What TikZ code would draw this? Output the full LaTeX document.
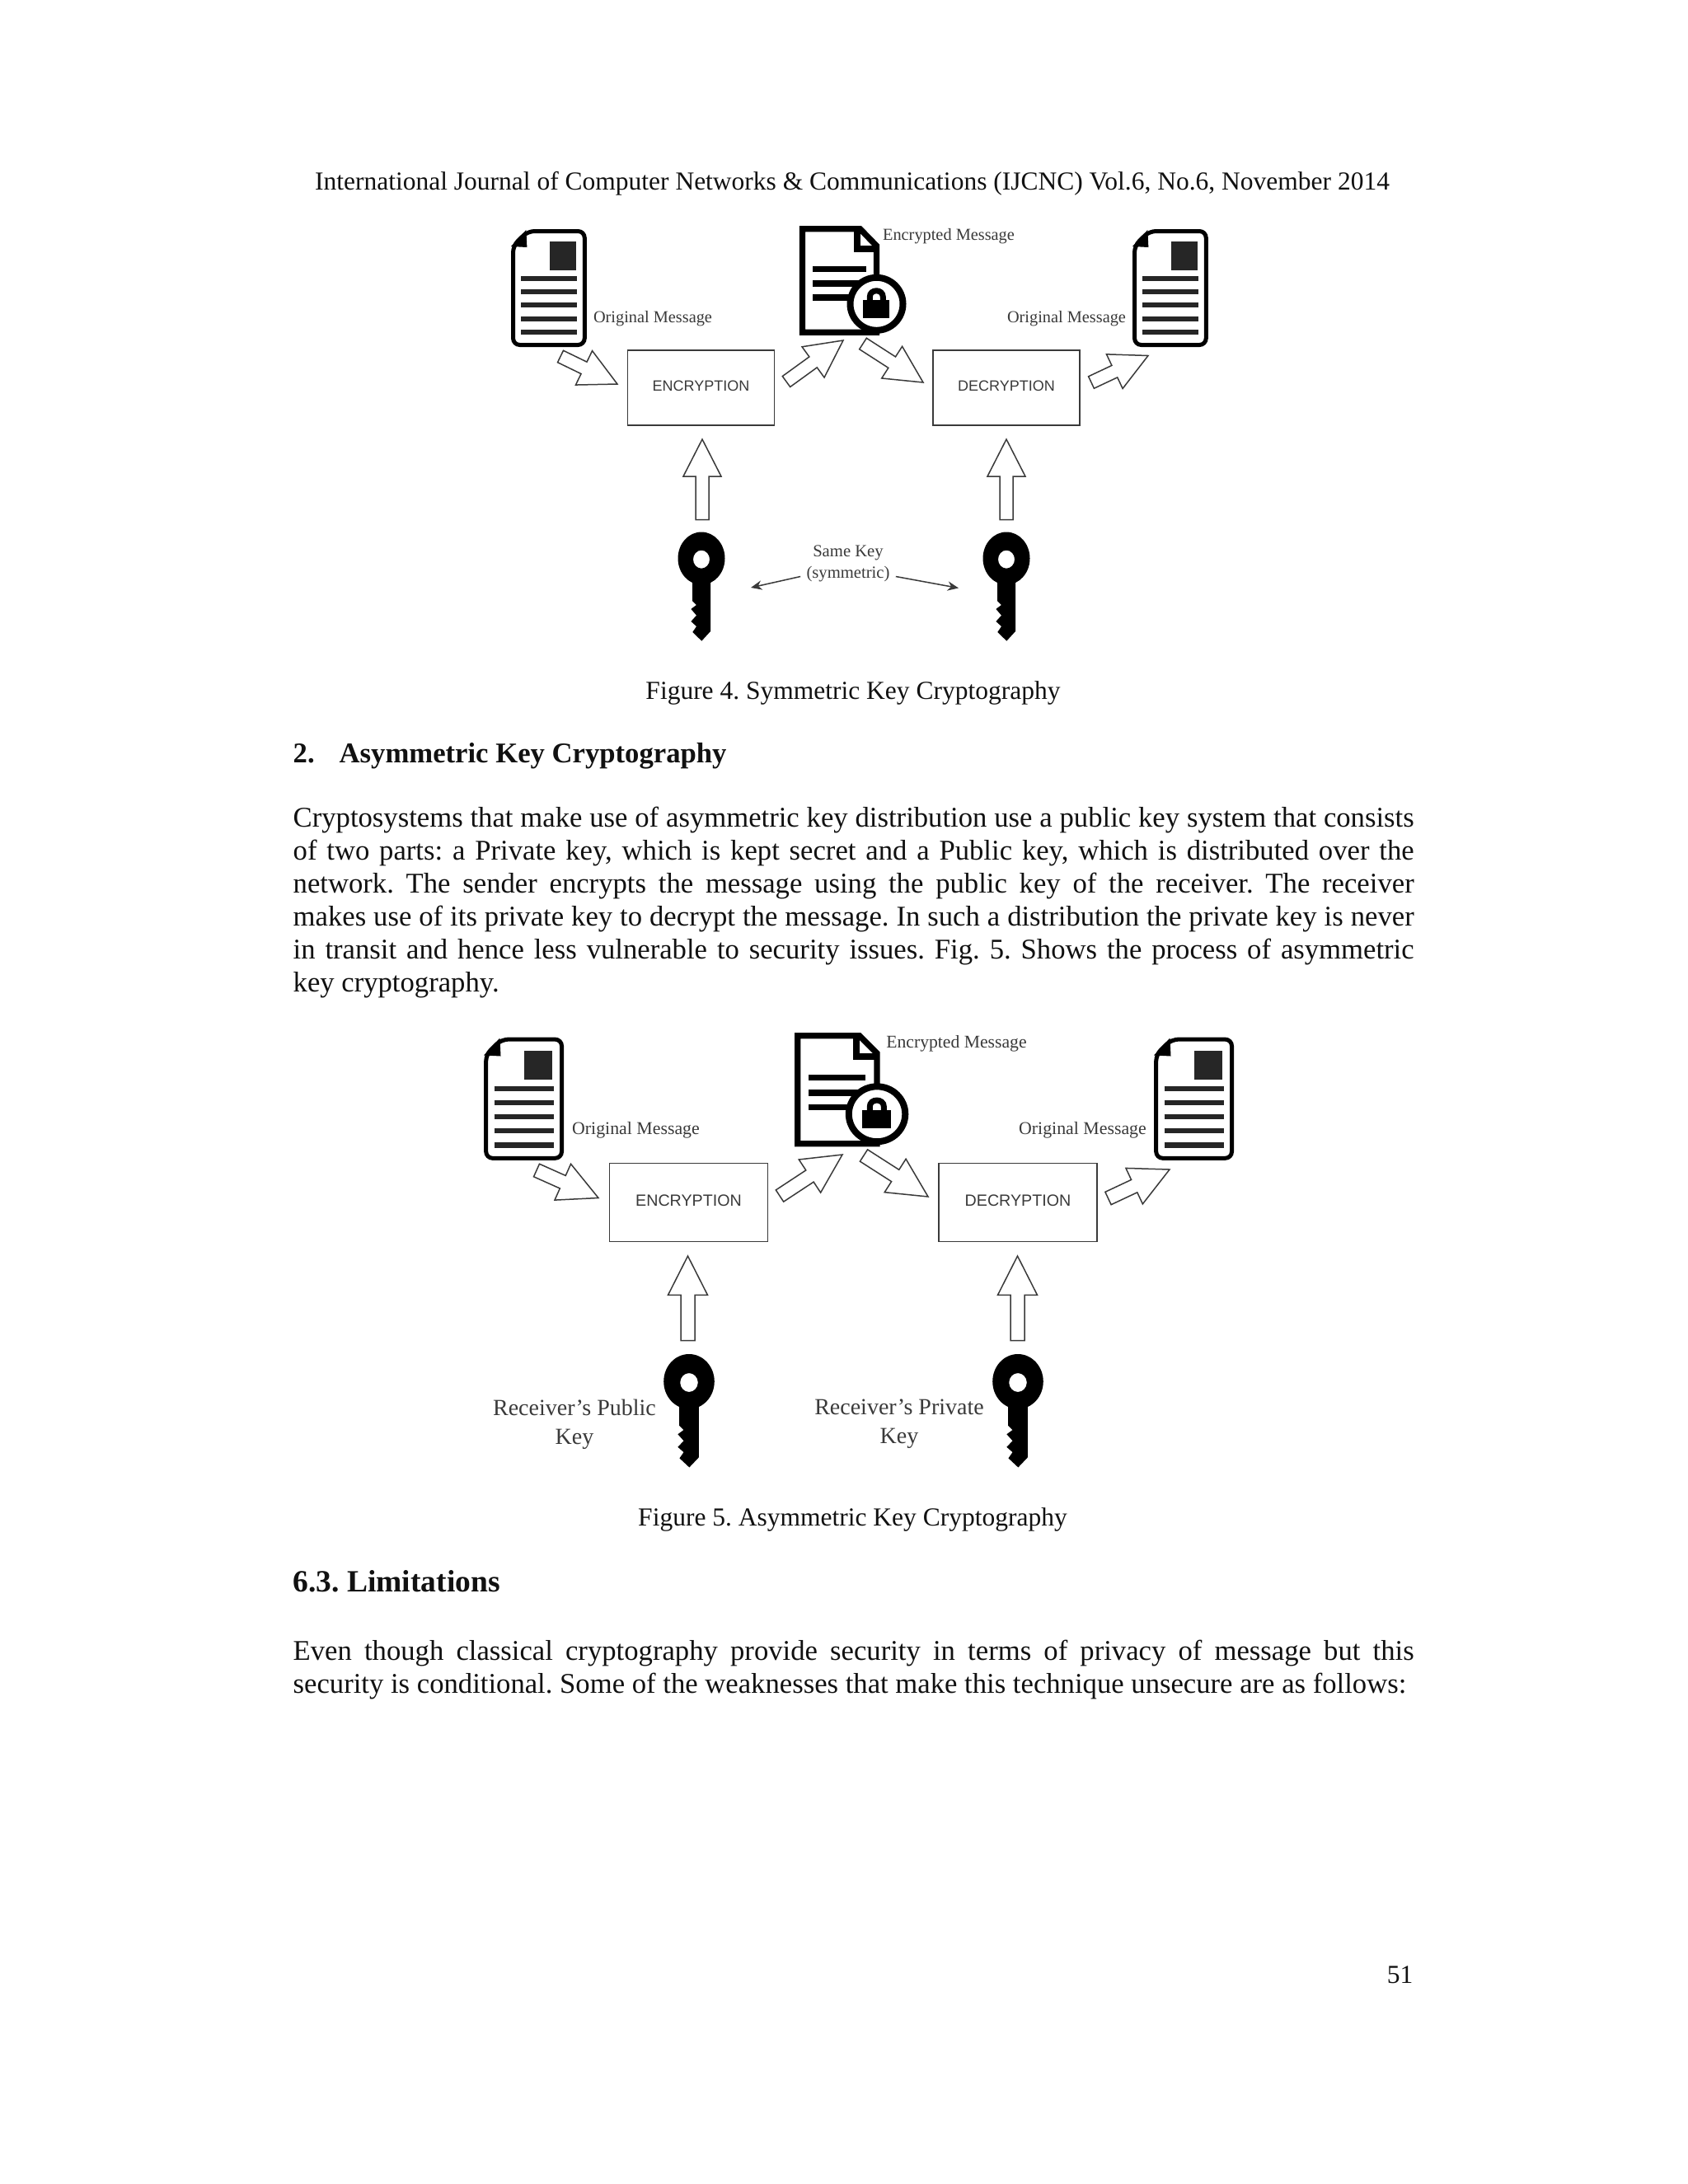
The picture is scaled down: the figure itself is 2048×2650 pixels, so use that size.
\documentclass[tikz,border=0pt]{standalone}
\usepackage{fontspec}
\setmainfont{Liberation Serif}
\newfontfamily\boxfont{Liberation Sans}
\usetikzlibrary{calc,arrows.meta}
\definecolor{inkgrey}{HTML}{3A3A3A}
\definecolor{pageblack}{HTML}{111111}
\frenchspacing
\tikzset{
  bodytext/.style={inner sep=0pt, text=pageblack, font=\fontsize{9.45}{12}\selectfont},
  headtext/.style={bodytext, anchor=base west, font=\fontsize{10.4}{12}\selectfont\bfseries},
  parablock/.style={bodytext, anchor=north west, text width=408pt, align=justify, font=\fontsize{10.4}{12}\selectfont},
  msglabel/.style={inner sep=0pt, text=inkgrey, font=\fontsize{#1}{8}\selectfont},
  keylabel/.style={inner sep=0pt, text=inkgrey, align=center, font=\fontsize{8.4}{10.4}\selectfont},
  topbox/.style={draw=inkgrey, line width=0.45pt, minimum width=53.4pt, minimum height=27.4pt, inner sep=0pt, text=inkgrey, text height=4pt, text depth=1.6pt, font=\boxfont\fontsize{5.4}{7}\selectfont},
  lowbox/.style={draw=inkgrey, line width=0.45pt, minimum width=57.6pt, minimum height=28.6pt, inner sep=0pt, text=inkgrey, text height=4.3pt, text depth=1.8pt, font=\boxfont\fontsize{5.9}{7}\selectfont},
  hollowline/.style={draw=inkgrey, line width=0.45pt, fill=white, line join=miter},
  thinarrow/.style={draw=inkgrey, line width=0.45pt, -{Stealth[length=4pt,width=3.4pt]}},
  pics/origdoc/.style={code={
    \draw[black, line width=1.5pt, fill=white, rounded corners=2.4pt] (2.5,20) -- (20,2.5) -- (87.5,2.5) -- (87.5,140.5) -- (2.5,140.5) -- cycle;
    \fill[black] (18,1) -- (0,21) -- (19,22) -- cycle;
    \fill[black!85] (45.7,15.3) rectangle (77.3,49.7);
    \draw[black!85, line width=1.9pt] (12,59.7) -- (78.7,59.7) (12,76) -- (78.7,76) (12,92.3) -- (78.7,92.3) (12,108.7) -- (78.7,108.7) (12,125.3) -- (78.7,125.3);
  }},
  pics/lockdoc/.style={code={
    \draw[black, line width=2.2pt, fill=white, line join=miter] (3.5,3.5) -- (73.5,3.5) -- (93.5,24) -- (93.5,129) -- (3.5,129) -- cycle;
    \draw[black, line width=2.2pt] (70,3.5) -- (70,27.7) -- (93.5,27.7);
    \draw[black, line width=2.2pt] (16,52.4) -- (80.7,52.4) (16,69.7) -- (80.7,69.7) (16,86.7) -- (80.7,86.7);
    \draw[black, line width=2.4pt, fill=white] (93.5,94.5) ellipse (32 and 32);
    \fill[black] (77,89.7) rectangle (109,111.4);
    \draw[black, line width=2.1pt] (85.3,90) -- (85.3,86) .. controls (85.3,76) and (101.3,76) .. (101.3,86) -- (101.3,90);
  }},
  pics/blackkey/.style={code={
    \fill[black, even odd rule] (0,31.5) ellipse (28.5 and 32) (0,32.7) ellipse (10 and 11);
    \fill[black] (-11,55) -- (11,55) -- (11,120) -- (0.3,131.7) -- (-10.7,121) -- (-6,114) -- (-12.6,108) -- (-6,100.7) -- (-12.6,93) -- (-6,88) -- (-11,83) -- cycle;
  }},
}
% hollow block arrow between two named coordinates
\newcommand{\hollowarrow}[2]{%
  \coordinate (hb) at ($(#2)!\alen!(#1)$);
  \draw[hollowline] ($(#1)!\ashaft!90:(#2)$) -- ($(hb)!\ashaft!90:(#2)$) -- ($(hb)!\ahead!90:(#2)$) -- (#2) -- ($(hb)!\ahead!-90:(#2)$) -- ($(hb)!\ashaft!-90:(#2)$) -- ($(#1)!\ashaft!-90:(#2)$) -- cycle;
}
\begin{document}
\begin{tikzpicture}[x=0.3pt, y=-0.3pt]
\useasboundingbox (0,0) rectangle (2048,2650);
\fill[white] (0,0) rectangle (2048,2650);

\node[bodytext] (header) at (1034,223) {International Journal of Computer Networks \& Communications (IJCNC) Vol.6, No.6, November 2014};

% Figure 4
\def\ashaft{2.4pt}\def\ahead{6.9pt}\def\alen{13.5pt}
\pic[xscale=1.02] at (620,278) {origdoc};
\pic at (970,274.3) {lockdoc};
\pic[xscale=1.02] at (1374,278) {origdoc};
\node[msglabel=6.1] (origa) at (792,387) {Original Message};
\node[msglabel=6.1] (origb) at (1294,387) {Original Message};
\node[msglabel=6.1] (encmsga) at (1151,287) {Encrypted Message};
\node[topbox] (enca) at (850.5,470.5) {ENCRYPTION};
\node[topbox] (deca) at (1221,470.5) {DECRYPTION};
\coordinate (a1s) at (680,432.5); \coordinate (a1t) at (749,466);
\coordinate (a2s) at (954,463); \coordinate (a2t) at (1023,413);
\coordinate (a3s) at (1047,417); \coordinate (a3t) at (1120,464);
\coordinate (a4s) at (1324,464); \coordinate (a4t) at (1393,431.5);
\coordinate (a5s) at (852,630.5); \coordinate (a5t) at (852,533);
\coordinate (a6s) at (1221,630.5); \coordinate (a6t) at (1221,533);
\hollowarrow{a1s}{a1t}
\hollowarrow{a2s}{a2t}
\hollowarrow{a3s}{a3t}
\hollowarrow{a4s}{a4t}
\hollowarrow{a5s}{a5t}
\hollowarrow{a6s}{a6t}
\pic at (851,646) {blackkey};
\pic at (1221,646) {blackkey};
\node[inner sep=2pt, text=inkgrey, align=center, font=\fontsize{6.2}{8}\selectfont] (samekey) at (1029,684) {Same Key\\(symmetric)};
\coordinate (keyl) at (911,713);
\coordinate (keyr) at (1163,713.5);
\draw[thinarrow] (samekey.195) -- (keyl);
\draw[thinarrow] (samekey.-15) -- (keyr);
\node[bodytext] (capfour) at (1035,841) {Figure 4. Symmetric Key Cryptography};

% section text
\node[headtext] (secnum) at (355,925) {2.};
\node[headtext] (sectitle) at (411,925) {Asymmetric Key Cryptography};
\node[parablock] (paraone) at (355,978) {Cryptosystems that make use of asymmetric key distribution use a public key system that consists\linebreak of two parts: a Private key, which is kept secret and a Public key, which is distributed over the\linebreak network. The sender encrypts the message using the public key of the receiver. The receiver\linebreak makes use of its private key to decrypt the message. In such a distribution the private key is never\linebreak in transit and hence less vulnerable to security issues. Fig. 5. Shows the process of asymmetric\linebreak key cryptography.};

% Figure 5
\def\ashaft{2.55pt}\def\ahead{7.2pt}\def\alen{14.2pt}
\pic[xscale=1.08, yscale=1.045] at (587,1258.5) {origdoc};
\pic[xscale=1.07, yscale=1.045] at (964,1253) {lockdoc};
\pic[xscale=1.08, yscale=1.045] at (1400,1258.5) {origdoc};
\node[msglabel=6.55] (origc) at (771.5,1371) {Original Message};
\node[msglabel=6.55] (origd) at (1313.5,1371) {Original Message};
\node[msglabel=6.5] (encmsgb) at (1160.5,1266) {Encrypted Message};
\node[lowbox] (encb) at (835.5,1459) {ENCRYPTION};
\node[lowbox] (decb) at (1235,1459) {DECRYPTION};
\coordinate (b1s) at (651,1420); \coordinate (b1t) at (726,1453.5);
\coordinate (b2s) at (946,1451); \coordinate (b2t) at (1022,1401);
\coordinate (b3s) at (1048,1402); \coordinate (b3t) at (1126,1452);
\coordinate (b4s) at (1344.5,1454); \coordinate (b4t) at (1419,1419);
\coordinate (b5s) at (834.5,1626.5); \coordinate (b5t) at (834.5,1524);
\coordinate (b6s) at (1234.5,1626.5); \coordinate (b6t) at (1234.5,1524);
\hollowarrow{b1s}{b1t}
\hollowarrow{b2s}{b2t}
\hollowarrow{b3s}{b3t}
\hollowarrow{b4s}{b4t}
\hollowarrow{b5s}{b5t}
\hollowarrow{b6s}{b6t}
\pic[xscale=1.08, yscale=1.04] at (836,1643.5) {blackkey};
\pic[xscale=1.08, yscale=1.04] at (1235,1643.5) {blackkey};
\node[keylabel] (pubkey) at (697,1728) {Receiver's Public\\Key};
\node[keylabel] (privkey) at (1091,1728) {Receiver's Private\\Key};
\node[bodytext] (capfive) at (1034.5,1844) {Figure 5. Asymmetric Key Cryptography};

% closing text
\node[headtext, font=\fontsize{11.25}{14}\selectfont\bfseries] (limits) at (355,1931) {6.3. Limitations};
\node[parablock] (paratwo) at (355,1989) {Even though classical cryptography provide security in terms of privacy of message but this\linebreak security is conditional. Some of the weaknesses that make this technique unsecure are as follows:};
\node[bodytext, anchor=east] (pagenum) at (1715,2396) {51};
\end{tikzpicture}
\end{document}
